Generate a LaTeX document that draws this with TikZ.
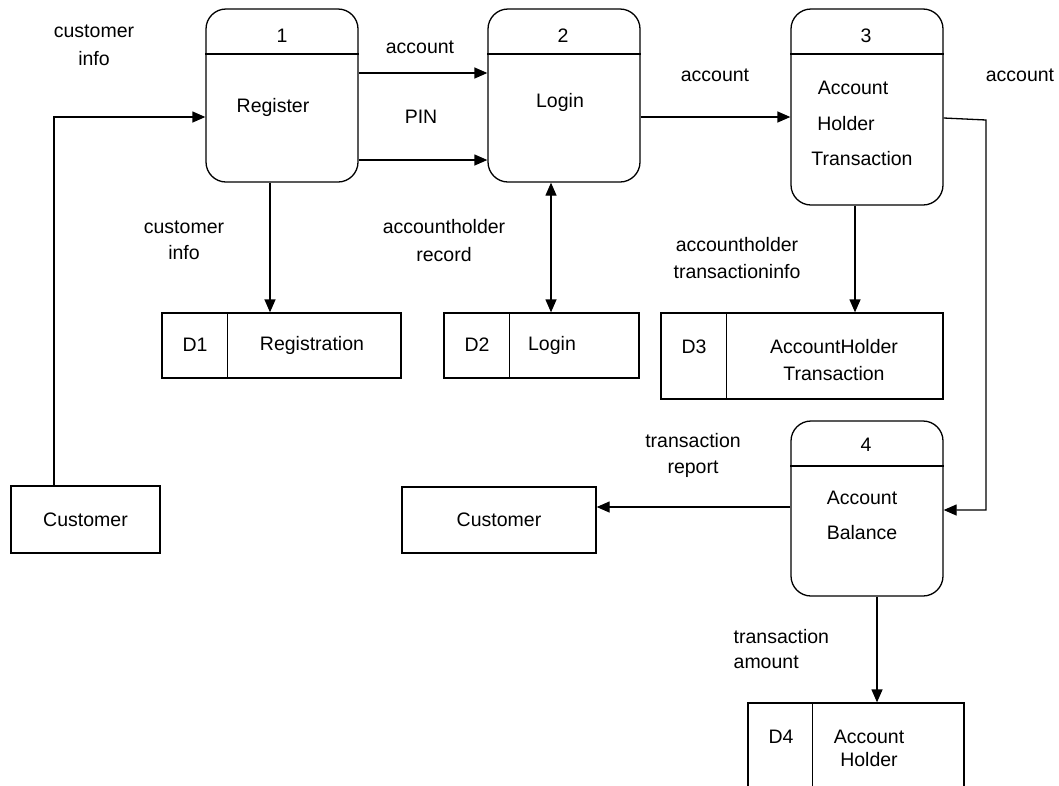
\documentclass[tikz,border=0pt]{standalone}
\usepackage{fontspec}
\setmainfont{Liberation Sans}
\usetikzlibrary{arrows.meta,calc}
\begin{document}
\begin{tikzpicture}[x=1pt,y=-1pt, line width=1.3pt,
  font=\fontsize{19.5}{28}\selectfont,
  proc/.style={draw, rounded corners=20pt, minimum width=152pt, minimum height=173pt, inner sep=0pt},
  store/.style={draw, rectangle, inner sep=0pt},
  arr/.style={-{Triangle[length=13pt,width=11pt]}},
  darr/.style={{Triangle[length=13pt,width=11pt]}-{Triangle[length=13pt,width=11pt]}},
  lbl/.style={align=center, inner sep=0pt},
  tx/.style={inner sep=0pt}]
\clip (0,0) rectangle (1059,785);
\fill[white] (0,0) rectangle (1059,785);

% processes
\node[proc] (p1) at (282,95.5) {};
\node[proc] (p2) at (564,95.5) {};
\node[proc, minimum height=196pt] (p3) at (867,107) {};
\node[proc, minimum height=175pt] (p4) at (867,508.5) {};
\draw (p1.west |- 0,54) -- (p1.east |- 0,54);
\draw (p2.west |- 0,54) -- (p2.east |- 0,54);
\draw (p3.west |- 0,54) -- (p3.east |- 0,54);
\draw (p4.west |- 0,466) -- (p4.east |- 0,466);
\node[tx] at (282,36) {1};
\node[tx] at (563,36) {2};
\node[tx] at (866,36) {3};
\node[tx] at (866,445) {4};
\node[tx] at (273,107) {Register};
\node[tx] at (560,102) {Login};
\node[tx] at (853,88) {Account};
\node[tx] at (846,124) {Holder};
\node[tx] at (862,159) {Transaction};
\node[tx] at (862,498) {Account};
\node[tx] at (862,533) {Balance};

% stores
\node[store, minimum width=239pt, minimum height=65pt] (d1) at (281.5,345.5) {};
\node[store, minimum width=195pt, minimum height=65pt] (d2) at (541.5,345.5) {};
\node[store, minimum width=282pt, minimum height=86pt] (d3) at (802,356) {};
\node[store, minimum width=216pt, minimum height=97pt] (d4) at (856,751.5) {};
\draw ($(d1.north west)+(66,0)$) -- ($(d1.south west)+(66,0)$);
\draw ($(d2.north west)+(66,0)$) -- ($(d2.south west)+(66,0)$);
\draw ($(d3.north west)+(66,0)$) -- ($(d3.south west)+(66,0)$);
\draw ($(d4.north west)+(65,0)$) -- ($(d4.south west)+(65,0)$);
\node[tx] at (195,345) {D1};
\node[tx] at (312,345) {Registration};
\node[tx] at (477,345) {D2};
\node[tx] at (552,345) {Login};
\node[tx] at (694,347) {D3};
\node[lbl, font=\fontsize{19.5}{27}\selectfont] at (834,360) {AccountHolder\\Transaction};
\node[tx] at (781,737) {D4};
\node[lbl, font=\fontsize{19.5}{23}\selectfont] at (869,748.5) {Account\\Holder};

% externals
\node[store, minimum width=149pt, minimum height=67pt] (c1) at (85.5,519.5) {Customer};
\node[store, minimum width=194pt, minimum height=66pt] (c2) at (499,520) {Customer};

% connectors
\draw[arr] ([xshift=-31.5pt]c1.north) |- ([yshift=-21.5pt]p1.west);
\draw[arr] ([yshift=22.5pt]p1.east) -- ([yshift=22.5pt]p2.west);
\draw[arr] ([yshift=-64.5pt]p1.east) -- ([yshift=-64.5pt]p2.west);
\draw[arr] ([xshift=-12pt]p1.south) -- ([xshift=-12pt]p1.south |- d1.north);
\draw[darr] ([xshift=-13pt]p2.south) -- ([xshift=-13pt]p2.south |- d2.north);
\draw[arr] ([yshift=-21.5pt]p2.east) -- ([yshift=-21.5pt]p2.east -| p3.west);
\draw[arr] ([xshift=-12pt]p3.south) -- ([xshift=-12pt]p3.south |- d3.north);
\coordinate (k) at (986,120);
\draw[arr] ([yshift=-11pt]p3.east) -- (k) |- ([yshift=-1.5pt]p4.east);
\draw[arr] ([yshift=1.5pt]p4.west) -- ([yshift=1.5pt]p4.west -| c2.east);
\draw[arr] ([xshift=10pt]p4.south) -- ([xshift=10pt]p4.south |- d4.north);

% labels
\node[lbl] at (94,45) {customer\\info};
\node[lbl] at (420,47) {account};
\node[lbl] at (421,117) {PIN};
\node[lbl, font=\fontsize{19.5}{26}\selectfont] at (184,240) {customer\\info};
\node[lbl] at (444,241) {accountholder\\record};
\node[lbl] at (715,75) {account};
\node[lbl] at (1020,75) {account};
\node[lbl, font=\fontsize{19.5}{27}\selectfont] at (737,258) {accountholder\\transactioninfo};
\node[lbl, font=\fontsize{19.5}{26}\selectfont] at (693,455) {transaction\\report};
\node[lbl, align=left, anchor=west, font=\fontsize{19.5}{25}\selectfont] at (733,649.5) {transaction\\amount};
\end{tikzpicture}
\end{document}
